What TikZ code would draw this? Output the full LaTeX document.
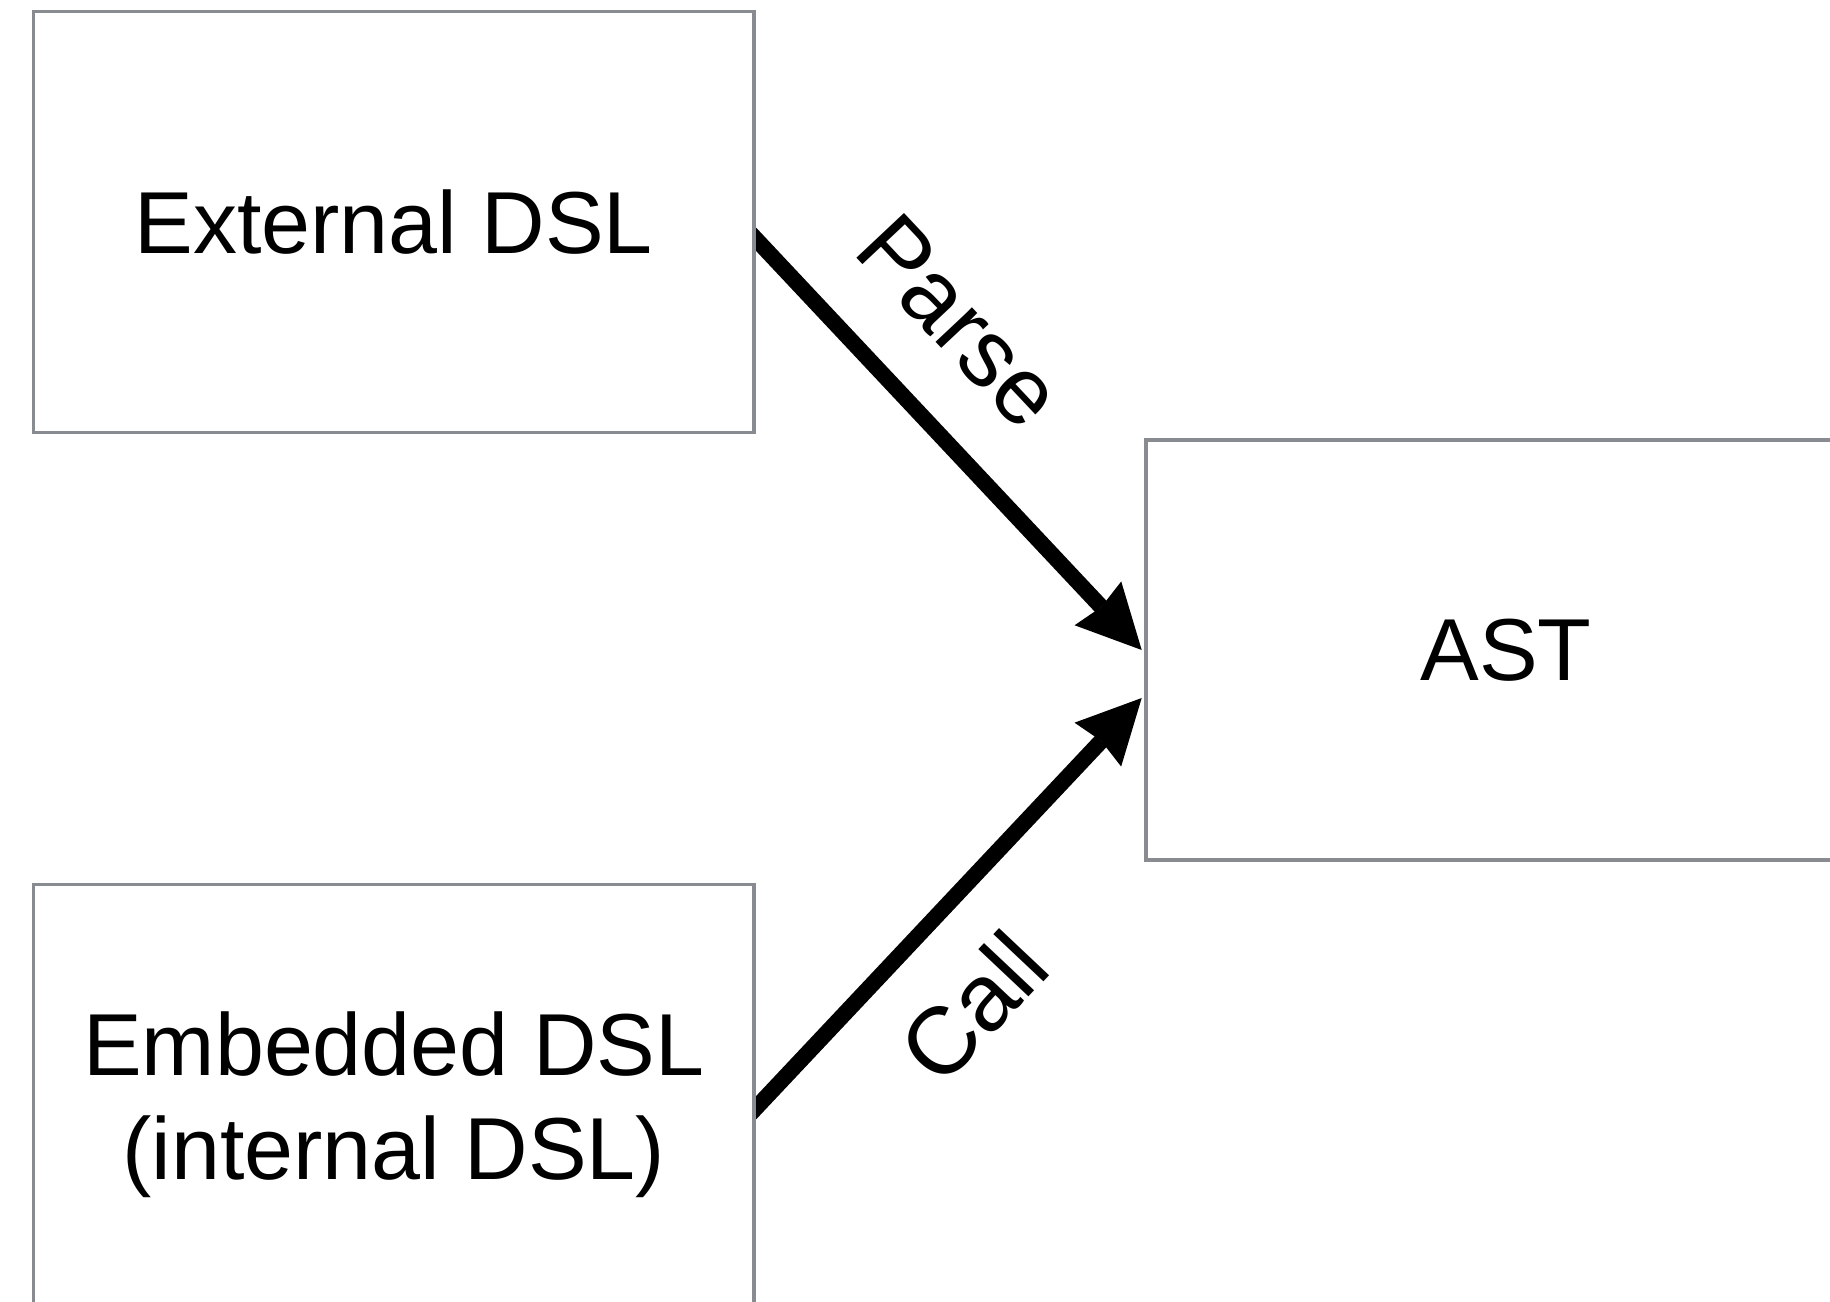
\documentclass[tikz,border=0pt]{standalone}
\usepackage{fontspec}
\setmainfont{Liberation Sans}
\usetikzlibrary{arrows.meta,calc,backgrounds}
\definecolor{boxgray}{RGB}{136,139,143}
\begin{document}
\begin{tikzpicture}[x=1pt,y=-1pt,
  box/.style={draw=boxgray, line width=3.6pt, fill=white, minimum width=720.5pt,
              inner sep=0pt, align=center, font=\fontsize{88}{104}\selectfont},
  conn/.style={line width=16pt, -{Stealth[length=64pt,width=64pt,inset=5pt,line width=0pt]}},
  lbl/.style={font=\fontsize{95}{110}\selectfont, inner sep=0pt}]
\useasboundingbox (0,0) rectangle (1830,1301);
\clip (0,0) rectangle (1830,1301);

\node[box, minimum height=421pt] (ext) at (393.75,222) {External DSL};
\node[box, minimum height=440.5pt] (emb) at (393.75,1104.75) {Embedded DSL\\(internal DSL)};
\node[box, minimum width=720pt, minimum height=420pt] (ast) at (1506,650) {AST};

\coordinate (s1) at ([yshift=-17pt]ext.east);
\coordinate (t1) at ([xshift=-2.5pt]ast.west);
\coordinate (s2) at ([yshift=-3.25pt]emb.east);
\coordinate (t2) at ([xshift=-2.5pt,yshift=-48pt]ast.west);

\begin{pgfonlayer}{background}
\draw[conn, shorten <=-14pt] (s1) -- (t1);
\draw[conn, shorten <=-14pt] (s2) -- (t2);
\end{pgfonlayer}

\node[lbl, rotate=-46.8] (parse) at ($(s1)!0.354!(t1)!92.6pt!90:(t1)$) {Parse};
\node[lbl, rotate=46.7] (call) at ($(s2)!0.395!(t2)!88.9pt!-90:(t2)$) {Call};
\end{tikzpicture}
\end{document}
